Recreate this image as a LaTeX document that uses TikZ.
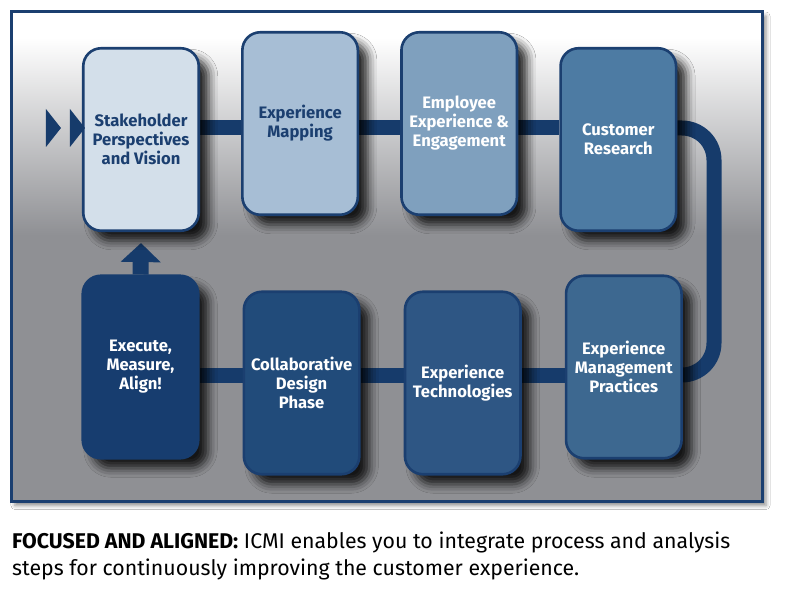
\documentclass[tikz,border=0pt]{standalone}
\usepackage{fontspec}
\setmainfont{Fira Sans}
\usepackage{xcolor}
\definecolor{cnavy}{HTML}{1B3F70}
\definecolor{cbar}{HTML}{163B6B}
\definecolor{cgray}{HTML}{8F9094}
\definecolor{sa}{HTML}{D3DFEA}
\definecolor{sb}{HTML}{A7BED5}
\definecolor{sc}{HTML}{7FA0BE}
\definecolor{sd}{HTML}{4D7BA3}
\definecolor{se}{HTML}{3D6890}
\definecolor{sf}{HTML}{2E5684}
\definecolor{sg}{HTML}{214B7A}
\definecolor{sh}{HTML}{173D6F}
\usepackage{tikz}
\usetikzlibrary{arrows.meta,positioning,calc,backgrounds,shadows.blur}

\begin{document}
\begin{tikzpicture}[
  x=1pt, y=-1pt, node distance=10mm and 41pt, >=Stealth,
  stage/.style={rectangle, rounded corners=18pt, draw=cnavy, line width=2.6pt,
    minimum width=115.5pt, minimum height=182.5pt, align=center, text=white,
    font=\bfseries\fontsize{16.6}{19}\selectfont,
    blur shadow={shadow xshift=10pt, shadow yshift=-10pt, shadow blur radius=9pt, shadow opacity=85}},
  link/.style={draw=cbar, line width=15pt},
]
  \useasboundingbox (0,0) rectangle (785,591);

  % top row, left to right
  \node[stage, fill=sa, text=cnavy] (sv) at (141,139.5) {Stakeholder\\Perspectives\\and Vision};
  \node[stage, fill=sb, text=cnavy, right=of sv, yshift=16pt] (em) {Experience\\Mapping};
  \node[stage, fill=sc, right=of em] (ee) {Employee\\Experience \&\\Engagement};
  \node[stage, fill=sd, right=of ee, yshift=-16pt] (cr) {Customer\\Research};

  % bottom row, left to right
  \node[stage, fill=sh, draw=sh] (ex) at (140.5,367) {Execute,\\Measure,\\Align!};
  \node[stage, fill=sg, right=43pt of ex, yshift=-16pt] (cd) {Collaborative\\Design\\Phase};
  \node[stage, fill=sf, right=43pt of cd] (et) {Experience\\Technologies};
  \node[stage, fill=se, right=43pt of et, yshift=16pt] (mp) {Experience\\Management\\Practices};

  \coordinate (toprow) at (0,128);
  \coordinate (botrow) at (0,375);
  \coordinate (bend) at (714,250);

  \begin{scope}[on background layer]
    % panel
    \fill[white] (0,0) rectangle (785,591);
    \path[fill=cgray, blur shadow={shadow xshift=4pt, shadow yshift=-4pt, shadow blur radius=4pt, shadow opacity=45}]
      (11,12) rectangle (762,501.5);
    \fill[white] (11,12) rectangle (762,38);
    \shade[top color=white, bottom color=cgray] (11,38) rectangle (762,235);
    \draw[cnavy, line width=3pt] (11,12) rectangle (762,501.5);

    % links
    \draw[link] (sv.east |- toprow) -- (em.west |- toprow);
    \draw[link] (em.east |- toprow) -- (ee.west |- toprow);
    \draw[link] (ee.east |- toprow) -- (cr.west |- toprow);
    \draw[link, rounded corners=32pt] (cr.east |- toprow) -| (bend) |- (mp.east |- botrow);
    \draw[link] (mp.west |- botrow) -- (et.east |- botrow);
    \draw[link] (et.west |- botrow) -- (cd.east |- botrow);
    \draw[link] (cd.west |- botrow) -- (ex.east |- botrow);
    \draw[cbar, line width=16pt, -{Triangle[width=39pt, length=19pt]}] (ex.north) -- ([yshift=-11pt]sv.south);
  \end{scope}

  % entry markers
  \foreach \dx in {0,-24}
    \fill[cbar] ([xshift=\dx pt+3pt]sv.west |- toprow) -- ++(-15,-19) -- ++(0,38) -- cycle;

  \node[anchor=base west, align=left, inner sep=0pt, font=\fontsize{21.3}{27}\selectfont] (cap) at (12,575)
    {\textbf{FOCUSED AND ALIGNED:} ICMI enables you to integrate process and analysis\\
     steps for continuously improving the customer experience.};
\end{tikzpicture}
\end{document}
